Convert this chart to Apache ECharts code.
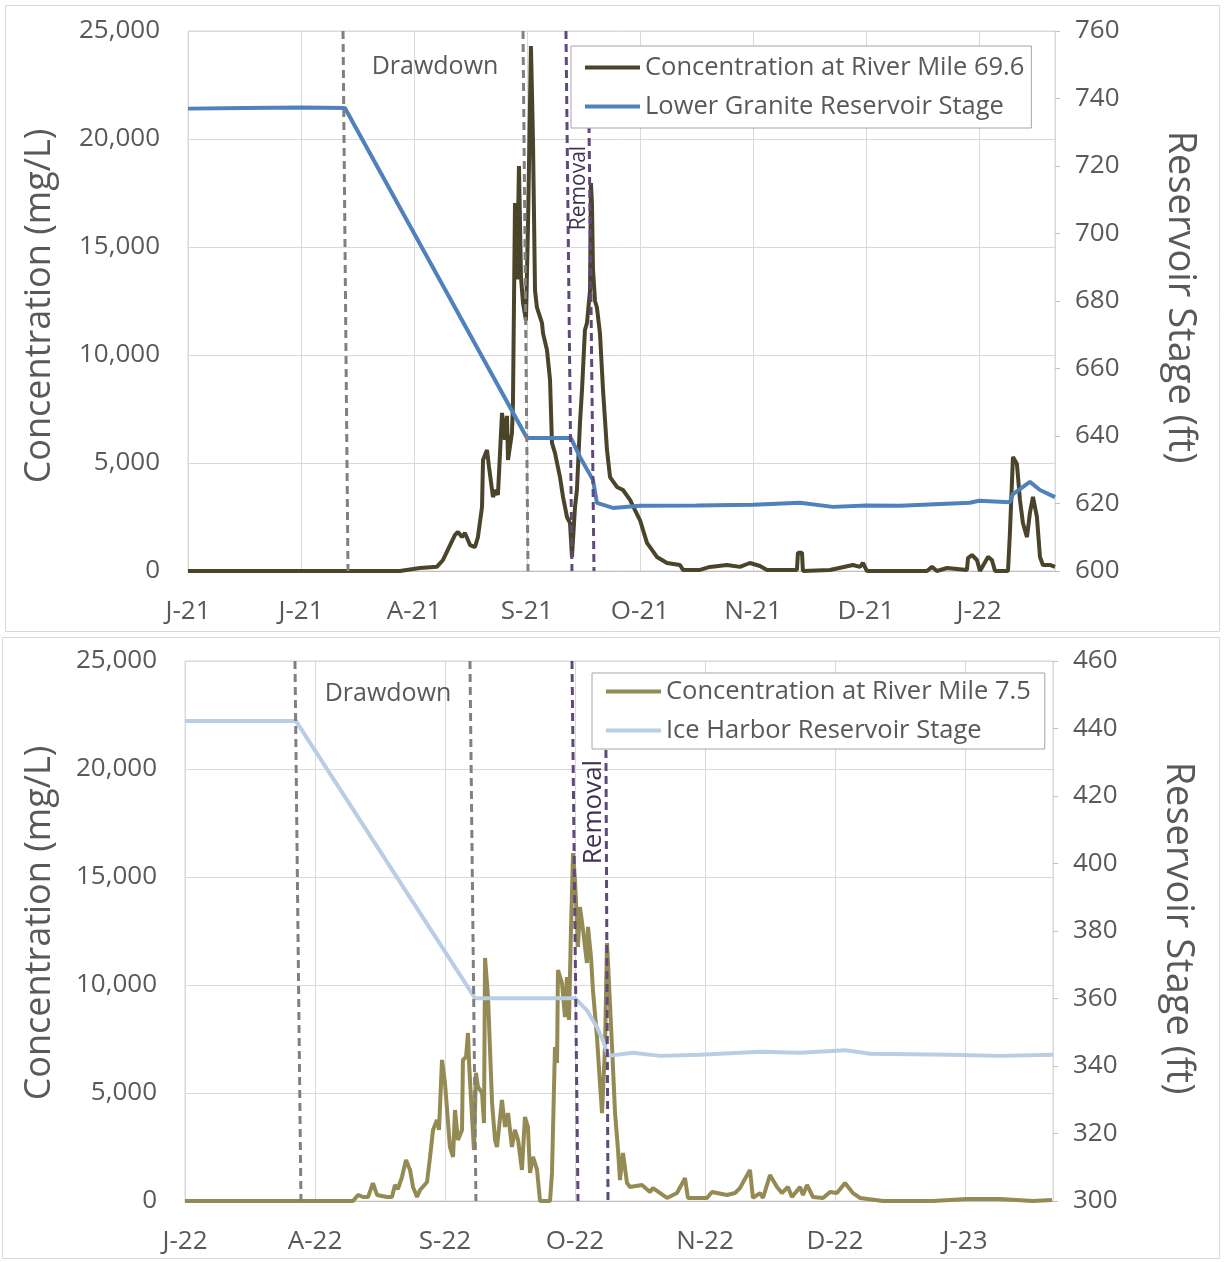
<!DOCTYPE html>
<html>
<head>
<meta charset="utf-8">
<title>Sediment concentration and reservoir stage</title>
<script src="https://cdn.jsdelivr.net/npm/echarts@6/dist/echarts.min.js"></script>
<style>
  html, body { margin: 0; padding: 0; background: #ffffff; }
  #chart { width: 1225px; height: 1262px; }
</style>
</head>
<body>
<div id="chart"></div>
<script>
// x values are in months from the first tick (0 = first labelled month)
const topMonthLabels = ['J-21', 'J-21', 'A-21', 'S-21', 'O-21', 'N-21', 'D-21', 'J-22'];
const bottomMonthLabels = ['J-22', 'A-22', 'S-22', 'O-22', 'N-22', 'D-22', 'J-23'];
const topXMax = 7.673;
const bottomXMax = 6.677;

// Concentration at River Mile 69.6 (mg/L)
const topConc = [
  [0,0],[1.876,0],[2.053,140],[2.204,200],[2.257,510],[2.363,1670],[2.389,1810],[2.425,1570],
  [2.451,1760],[2.496,1200],[2.540,1110],[2.566,1570],[2.602,2960],[2.611,5140],[2.646,5600],
  [2.664,4810],[2.699,3430],[2.726,3750],[2.743,3520],[2.779,7320],[2.805,6070],[2.823,7180],
  [2.832,5140],[2.867,6390],[2.876,7780],[2.894,17040],[2.912,13500],[2.929,18750],[2.947,13600],
  [2.965,12400],[2.991,11600],[3.009,16000],[3.035,24300],[3.053,20000],[3.071,13000],[3.088,12200],
  [3.133,11480],[3.142,11000],[3.177,10230],[3.204,8840],[3.221,5930],[3.248,5460],[3.292,4350],
  [3.319,3430],[3.354,2500],[3.381,2220],[3.398,650],[3.407,650],[3.425,2960],[3.442,3750],
  [3.469,6850],[3.487,8380],[3.513,11160],[3.531,11480],[3.558,13000],[3.566,17960],[3.575,17000],
  [3.584,14000],[3.602,12500],[3.619,12200],[3.646,11000],[3.673,8380],[3.708,5600],[3.735,4350],
  [3.796,3890],[3.850,3750],[3.912,3290],[3.956,2820],[4.000,2360],[4.062,1300],[4.150,650],
  [4.239,370],[4.354,280],[4.381,50],[4.531,50],[4.619,190],[4.770,280],[4.885,190],[4.973,370],
  [5.062,230],[5.124,50],[5.389,50],[5.398,850],[5.434,850],[5.442,0],[5.681,50],[5.885,280],
  [5.947,190],[5.973,370],[6.009,0],[6.540,0],[6.584,190],[6.628,0],[6.717,140],[6.894,50],
  [6.903,600],[6.938,740],[6.982,510],[7.009,0],[7.080,650],[7.115,510],[7.142,0],[7.257,0],
  [7.274,1760],[7.301,5280],[7.336,4950],[7.363,3290],[7.389,2220],[7.425,1570],[7.451,2690],
  [7.478,3430],[7.513,2500],[7.540,650],[7.566,280],[7.628,280],[7.673,190]
];

// Lower Granite Reservoir Stage (ft)
const topStage = [
  [0,737],[0.5,737.2],[1.0,737.3],[1.389,737.2],[3.000,639.4],[3.389,639.4],[3.469,633.8],
  [3.584,627.0],[3.619,620.2],[3.761,618.7],[4.0,619.3],[4.5,619.4],[5.0,619.6],[5.416,620.2],
  [5.708,619.0],[6.0,619.4],[6.301,619.3],[6.920,620.2],[7.0,620.8],[7.274,620.4],[7.301,622.8],
  [7.451,626.4],[7.540,624.0],[7.673,621.9]
];

// Concentration at River Mile 7.5 (mg/L)
const bottomConc = [
  [0,0],[1.292,0],[1.331,280],[1.369,185],[1.408,185],[1.446,830],[1.477,280],[1.554,185],
  [1.592,185],[1.615,740],[1.638,555],[1.669,1110],[1.700,1900],[1.731,1440],[1.754,650],
  [1.785,185],[1.808,510],[1.862,880],[1.885,2040],[1.908,3290],[1.938,3750],[1.954,3290],
  [1.977,6530],[2.000,5460],[2.038,2500],[2.062,2040],[2.077,4210],[2.100,2820],[2.131,3290],
  [2.138,6530],[2.162,6670],[2.177,7780],[2.185,6390],[2.208,3890],[2.223,2360],[2.238,5930],
  [2.254,5280],[2.285,5000],[2.300,3610],[2.308,11250],[2.331,9440],[2.362,4540],[2.385,2820],
  [2.400,2500],[2.438,4680],[2.462,3430],[2.485,4070],[2.515,2500],[2.538,3290],[2.562,2820],
  [2.592,1440],[2.615,3890],[2.638,3430],[2.654,1300],[2.677,2040],[2.708,1440],[2.731,0],
  [2.808,0],[2.823,1300],[2.846,7130],[2.862,6390],[2.869,10690],[2.900,10090],[2.923,8520],
  [2.938,10370],[2.954,8380],[2.969,12550],[2.985,16110],[3.000,14860],[3.015,12870],[3.023,11760],
  [3.038,13610],[3.062,12550],[3.077,11760],[3.092,11020],[3.100,12690],[3.123,11300],[3.138,9770],
  [3.169,7590],[3.192,5460],[3.208,4070],[3.231,7130],[3.246,11940],[3.254,11020],[3.285,7130],
  [3.308,4070],[3.331,2360],[3.346,970],[3.369,2220],[3.400,830],[3.423,650],[3.515,740],
  [3.577,420],[3.600,600],[3.708,140],[3.785,370],[3.846,1060],[3.869,140],[4.015,140],
  [4.054,420],[4.169,280],[4.231,370],[4.269,600],[4.346,1440],[4.369,140],[4.423,370],
  [4.446,140],[4.500,1200],[4.554,650],[4.592,370],[4.638,650],[4.669,185],[4.731,650],
  [4.754,280],[4.785,740],[4.831,185],[4.908,140],[4.962,420],[5.015,370],[5.077,830],
  [5.138,370],[5.192,140],[5.369,0],[5.754,0],[6.015,90],[6.269,90],[6.523,0],[6.669,50]
];

// Ice Harbor Reservoir Stage (ft)
const bottomStage = [
  [0,442.2],[0.854,442.2],[2.231,360.1],[3.000,360.1],[3.092,356.5],[3.169,351.5],[3.215,347.6],
  [3.254,343.0],[3.446,343.9],[3.654,343.0],[3.962,343.3],[4.423,344.2],[4.731,343.9],
  [5.077,344.7],[5.269,343.6],[5.885,343.3],[6.269,343.0],[6.677,343.3]
];

// Drawdown / removal event lines: month position at top and bottom of plot, optional top value (mg/L)
const topEvents = [
  { kind: 'drawdown', atTop: 1.372, atBottom: 1.416 },
  { kind: 'drawdown', atTop: 2.965, atBottom: 3.009 },
  { kind: 'removal',  atTop: 3.345, atBottom: 3.398 },
  { kind: 'removal',  atTop: 3.549, atBottom: 3.593, topValue: 20650 }
];
const bottomEvents = [
  { kind: 'drawdown', atTop: 0.846, atBottom: 0.892 },
  { kind: 'drawdown', atTop: 2.192, atBottom: 2.238 },
  { kind: 'removal',  atTop: 2.977, atBottom: 3.023 },
  { kind: 'removal',  atTop: 3.238, atBottom: 3.254, topValue: 20880 }
];

const FONT = '"Open Sans", "Noto Sans", sans-serif';
const TEXT = '#595959';
const GRID_LINE = '#d9d9d9';
const eventStyle = {
  drawdown: { color: '#808080', width: 3, type: [8, 5] },
  removal:  { color: '#5f497a', width: 3, type: [8, 5] }
};

function eventLines(events) {
  return events.map(e => [
    { coord: [e.atTop, e.topValue != null ? e.topValue : 25000], lineStyle: eventStyle[e.kind] },
    { coord: [e.atBottom, 0] }
  ]);
}

function xAxisFor(gridIndex, labels, max) {
  return {
    type: 'value', gridIndex, min: 0, max, interval: 1,
    axisLine: { show: true, lineStyle: { color: '#bfbfbf', width: 1 } },
    axisTick: { show: false },
    splitLine: { show: true, lineStyle: { color: GRID_LINE, width: 1 } },
    axisLabel: {
      margin: 28, fontFamily: FONT, fontSize: 26, color: TEXT,
      showMaxLabel: false,
      formatter: v => (Math.abs(v - Math.round(v)) < 1e-6 && labels[Math.round(v)] !== undefined) ? labels[Math.round(v)] : ''
    }
  };
}

function concAxis(gridIndex) {
  return {
    type: 'value', gridIndex, min: 0, max: 25000, interval: 5000, position: 'left',
    axisLine: { show: false }, axisTick: { show: false },
    splitLine: { show: true, lineStyle: { color: GRID_LINE, width: 1 } },
    axisLabel: {
      margin: 28, fontFamily: FONT, fontSize: 26, color: TEXT,
      formatter: v => v.toLocaleString('en-US')
    }
  };
}

function stageAxis(gridIndex, min, max) {
  return {
    type: 'value', gridIndex, min, max, interval: 20, position: 'right',
    axisLine: { show: true, lineStyle: { color: GRID_LINE } },
    axisTick: { show: true, length: 5, lineStyle: { color: '#bfbfbf' } },
    splitLine: { show: false },
    axisLabel: { margin: 20, fontFamily: FONT, fontSize: 26, color: TEXT }
  };
}

function legendFor(names, left, top, padding) {
  return {
    data: names, left, top, orient: 'vertical', z: 10,
    icon: 'rect', itemWidth: 55, itemHeight: 4, itemGap: 8,
    padding, borderColor: '#a6a6a6', borderWidth: 1, backgroundColor: '#ffffff',
    textStyle: { fontFamily: FONT, fontSize: 25.5, color: TEXT, lineHeight: 31 }
  };
}

function text(str, x, y, size, color, rotation) {
  return {
    type: 'text', x, y, rotation: rotation || 0, z: 20,
    style: { text: str, font: size + 'px ' + FONT, fill: color, align: 'center', verticalAlign: 'middle' }
  };
}

const markLineBase = {
  silent: true, symbol: ['none', 'none'], label: { show: false }, z: 5,
  lineStyle: { width: 3, type: [8, 5] }
};

const option = {
  animation: false,
  backgroundColor: '#ffffff',
  grid: [
    { left: 188, top: 31, width: 867, height: 540, show: true, borderColor: GRID_LINE, borderWidth: 1 },
    { left: 185, top: 661, width: 868, height: 540, show: true, borderColor: GRID_LINE, borderWidth: 1 }
  ],
  xAxis: [xAxisFor(0, topMonthLabels, topXMax), xAxisFor(1, bottomMonthLabels, bottomXMax)],
  yAxis: [concAxis(0), stageAxis(0, 600, 760), concAxis(1), stageAxis(1, 300, 460)],
  legend: [
    legendFor(['Concentration at River Mile 69.6', 'Lower Granite Reservoir Stage'], 571, 46, [6, 7, 6, 14]),
    legendFor(['Concentration at River Mile 7.5', 'Ice Harbor Reservoir Stage'], 592, 673, [3, 14, 3, 14])
  ],
  series: [
    {
      name: 'Concentration at River Mile 69.6', type: 'line', xAxisIndex: 0, yAxisIndex: 0,
      data: topConc, symbol: 'none', z: 2,
      lineStyle: { color: '#4a452a', width: 4 }, itemStyle: { color: '#4a452a' },
      markLine: Object.assign({}, markLineBase, { data: eventLines(topEvents) })
    },
    {
      name: 'Lower Granite Reservoir Stage', type: 'line', xAxisIndex: 0, yAxisIndex: 1,
      data: topStage, symbol: 'none', z: 3,
      lineStyle: { color: '#4f81bd', width: 4 }, itemStyle: { color: '#4f81bd' }
    },
    {
      name: 'Concentration at River Mile 7.5', type: 'line', xAxisIndex: 1, yAxisIndex: 2,
      data: bottomConc, symbol: 'none', z: 2,
      lineStyle: { color: '#948a54', width: 4 }, itemStyle: { color: '#948a54' },
      markLine: Object.assign({}, markLineBase, { data: eventLines(bottomEvents) })
    },
    {
      name: 'Ice Harbor Reservoir Stage', type: 'line', xAxisIndex: 1, yAxisIndex: 3,
      data: bottomStage, symbol: 'none', z: 3,
      lineStyle: { color: '#b9cde5', width: 4 }, itemStyle: { color: '#b9cde5' }
    }
  ],
  graphic: [
    // panel frames
    { type: 'rect', shape: { x: 5.5, y: 5.5, width: 1214, height: 626 }, style: { fill: 'none', stroke: GRID_LINE, lineWidth: 1 }, z: 0, silent: true },
    { type: 'rect', shape: { x: 2.5, y: 637.5, width: 1217, height: 621 }, style: { fill: 'none', stroke: GRID_LINE, lineWidth: 1 }, z: 0, silent: true },
    // axis titles
    text('Concentration (mg/L)', 40, 306, 36, TEXT, Math.PI / 2),
    text('Reservoir Stage (ft)', 1180, 297, 38, TEXT, -Math.PI / 2),
    text('Concentration (mg/L)', 40, 923, 36, TEXT, Math.PI / 2),
    text('Reservoir Stage (ft)', 1178, 928, 38, TEXT, -Math.PI / 2),
    // event annotations
    text('Drawdown', 435, 67, 25, TEXT, 0),
    text('Removal', 579, 188, 21, '#403152', Math.PI / 2),
    text('Drawdown', 388, 694, 25, TEXT, 0),
    text('Removal', 594, 812, 26, '#403152', Math.PI / 2)
  ]
};

const chart = echarts.init(document.getElementById('chart'), null, { renderer: 'canvas' });
chart.setOption(option);
</script>
</body>
</html>
